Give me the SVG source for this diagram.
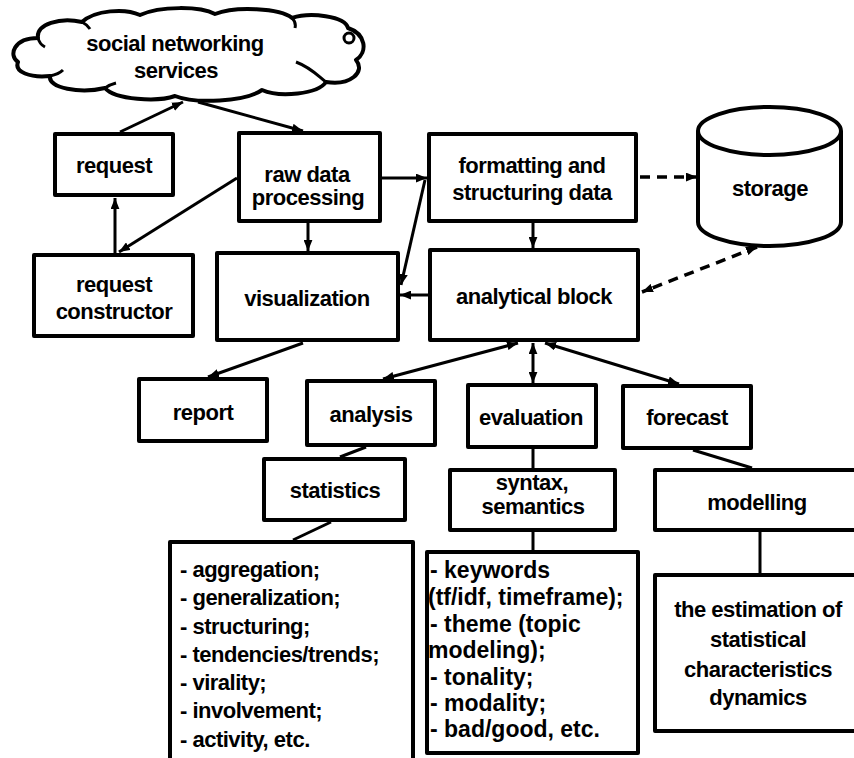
<svg xmlns="http://www.w3.org/2000/svg" width="854" height="758" viewBox="0 0 854 758">
  <style>
    .box { fill: #fff; stroke: #000; stroke-width: 4; stroke-linejoin: round; }
    .ln { fill: none; stroke: #000; stroke-width: 3; }
    .dash { fill: none; stroke: #000; stroke-width: 3.5; stroke-dasharray: 10 7; }
    .t { font-family: "Liberation Sans", Arial, sans-serif; font-weight: bold; font-size: 22px; letter-spacing: -0.5px; text-anchor: middle; fill: #000; }
    .l { font-family: "Liberation Sans", Arial, sans-serif; font-weight: bold; font-size: 22px; letter-spacing: -0.5px; fill: #000; }
    .m { font-family: "Liberation Sans", Arial, sans-serif; font-weight: bold; font-size: 23px; fill: #000; }
  </style>
  <defs>
    <marker id="ah" viewBox="0 0 10 8" refX="10" refY="4" markerWidth="11" markerHeight="9" markerUnits="userSpaceOnUse" orient="auto-start-reverse">
      <path d="M0,0 L10,4 L0,8 Z" fill="#000"/>
    </marker>
  </defs>
  <rect width="854" height="758" fill="#fff"/>

  <!-- connectors -->
  <g id="connectors">
    <line class="ln" x1="120" y1="132" x2="183" y2="102" marker-end="url(#ah)"/>
    <line class="ln" x1="198" y1="102" x2="303" y2="131" marker-end="url(#ah)"/>
    <line class="ln" x1="115" y1="253" x2="115" y2="198" marker-end="url(#ah)"/>
    <line class="ln" x1="237" y1="178" x2="119" y2="252" marker-end="url(#ah)"/>
    <line class="ln" x1="382" y1="178" x2="427" y2="178" marker-end="url(#ah)"/>
    <line class="ln" x1="308" y1="223" x2="308" y2="251" marker-end="url(#ah)"/>
    <line class="ln" x1="425" y1="180" x2="401" y2="285" marker-end="url(#ah)"/>
    <line class="ln" x1="428" y1="295" x2="400" y2="295" marker-end="url(#ah)"/>
    <line class="ln" x1="533" y1="223" x2="533" y2="248" marker-end="url(#ah)"/>
    <line class="dash" x1="640" y1="177" x2="697" y2="177" marker-end="url(#ah)"/>
    <line class="dash" x1="757" y1="247" x2="642" y2="292" marker-start="url(#ah)" marker-end="url(#ah)"/>
    <line class="ln" x1="303" y1="343" x2="208" y2="377" marker-end="url(#ah)"/>
    <line class="ln" x1="518" y1="343" x2="383" y2="379" marker-start="url(#ah)" marker-end="url(#ah)"/>
    <line class="ln" x1="533" y1="343" x2="533" y2="383" marker-start="url(#ah)" marker-end="url(#ah)"/>
    <line class="ln" x1="545" y1="343" x2="679" y2="384" marker-start="url(#ah)" marker-end="url(#ah)"/>
    <line class="ln" x1="366" y1="447" x2="340" y2="457"/>
    <line class="ln" x1="331" y1="522" x2="293" y2="540"/>
    <line class="ln" x1="533" y1="449" x2="533" y2="468"/>
    <line class="ln" x1="533" y1="532" x2="533" y2="550"/>
    <line class="ln" x1="693" y1="450" x2="752" y2="468"/>
    <line class="ln" x1="760" y1="532" x2="760" y2="573"/>
  </g>

  <!-- cloud: social networking services -->
  <g id="cloud">
    <path class="box" d="M18,62 C8,55 14,38 38,38 C36,24 60,17 82,22 C95,10 125,8 140,15 C160,6 200,6 215,14 C235,6 280,8 292,18 C310,12 345,16 348,28 C366,34 368,52 356,60 C366,72 350,86 326,82 C318,94 280,98 262,90 C245,102 195,104 175,96 C158,102 115,100 105,88 C80,94 48,88 50,76 C30,78 14,72 18,62 Z"/>
    <path class="ln" d="M50,76 C55,75 60,73 63,70 M38,38 C39,42 41,45 45,47 M82,22 C86,24 88,26 90,29 M292,18 C295,21 296,24 295,28 M326,82 C320,78 312,68 296,62 M105,88 C108,86 112,84 116,83"/>
    <circle cx="349" cy="38" r="5" fill="none" stroke="#000" stroke-width="3"/>
    <text class="t" x="175" y="51">social networking</text>
    <text class="t" x="176" y="78">services</text>
  </g>

  <g id="request">
    <rect class="box" x="55" y="134" width="118" height="61"/>
    <text class="t" x="114" y="173">request</text>
  </g>

  <g id="raw-data">
    <rect class="box" x="239" y="133" width="141" height="88"/>
    <text class="t" x="307" y="182">raw data</text>
    <text class="t" x="308" y="205">processing</text>
  </g>

  <g id="formatting">
    <rect class="box" x="429" y="134" width="207" height="87"/>
    <text class="t" x="532" y="173">formatting and</text>
    <text class="t" x="532" y="200">structuring data</text>
  </g>

  <g id="storage">
    <path class="box" d="M698,131 L698,222 A71.5,24 0 0 0 841,222 L841,131"/>
    <ellipse class="box" cx="769.5" cy="131" rx="71.5" ry="24"/>
    <text class="t" x="770" y="196">storage</text>
  </g>

  <g id="request-constructor">
    <rect class="box" x="34" y="255" width="159" height="81"/>
    <text class="t" x="114" y="292">request</text>
    <text class="t" x="114" y="319">constructor</text>
  </g>

  <g id="visualization">
    <rect class="box" x="217" y="253" width="181" height="87"/>
    <text class="t" x="307" y="306">visualization</text>
  </g>

  <g id="analytical-block">
    <rect class="box" x="430" y="250" width="208" height="90"/>
    <text class="t" x="534" y="304">analytical block</text>
  </g>

  <g id="report">
    <rect class="box" x="139" y="379" width="128" height="62"/>
    <text class="t" x="203" y="420">report</text>
  </g>

  <g id="analysis">
    <rect class="box" x="307" y="381" width="128" height="64"/>
    <text class="t" x="371" y="422">analysis</text>
  </g>

  <g id="evaluation">
    <rect class="box" x="468" y="385" width="128" height="62"/>
    <text class="t" x="531" y="425">evaluation</text>
  </g>

  <g id="forecast">
    <rect class="box" x="623" y="386" width="128" height="62"/>
    <text class="t" x="687" y="425">forecast</text>
  </g>

  <g id="statistics">
    <rect class="box" x="264" y="459" width="141" height="61"/>
    <text class="t" x="335" y="498">statistics</text>
  </g>

  <g id="statistics-list">
    <rect class="box" x="170" y="542" width="243" height="230"/>
    <text class="l" x="180" y="577">- aggregation;</text>
    <text class="l" x="180" y="605">- generalization;</text>
    <text class="l" x="180" y="634">- structuring;</text>
    <text class="l" x="180" y="662">- tendencies/trends;</text>
    <text class="l" x="180" y="690">- virality;</text>
    <text class="l" x="180" y="718">- involvement;</text>
    <text class="l" x="180" y="747">- activity, etc.</text>
  </g>

  <g id="syntax-semantics">
    <rect class="box" x="450" y="470" width="165" height="60"/>
    <text class="t" x="532" y="490">syntax,</text>
    <text class="t" x="533" y="514">semantics</text>
  </g>

  <g id="semantics-list">
    <rect class="box" x="427" y="552" width="211" height="201"/>
    <text class="m" x="430" y="578">- keywords</text>
    <text class="m" x="428" y="605">(tf/idf, timeframe);</text>
    <text class="m" x="430" y="632">- theme (topic</text>
    <text class="m" x="428" y="658">modeling);</text>
    <text class="m" x="430" y="685">- tonality;</text>
    <text class="m" x="430" y="711">- modality;</text>
    <text class="m" x="430" y="737">- bad/good, etc.</text>
  </g>

  <g id="modelling">
    <rect class="box" x="655" y="470" width="220" height="60"/>
    <text class="t" x="757" y="510">modelling</text>
  </g>

  <g id="estimation">
    <rect class="box" x="655" y="575" width="220" height="156"/>
    <text class="t" x="758" y="617">the estimation of</text>
    <text class="t" x="758" y="647">statistical</text>
    <text class="t" x="758" y="677">characteristics</text>
    <text class="t" x="758" y="705">dynamics</text>
  </g>
</svg>
